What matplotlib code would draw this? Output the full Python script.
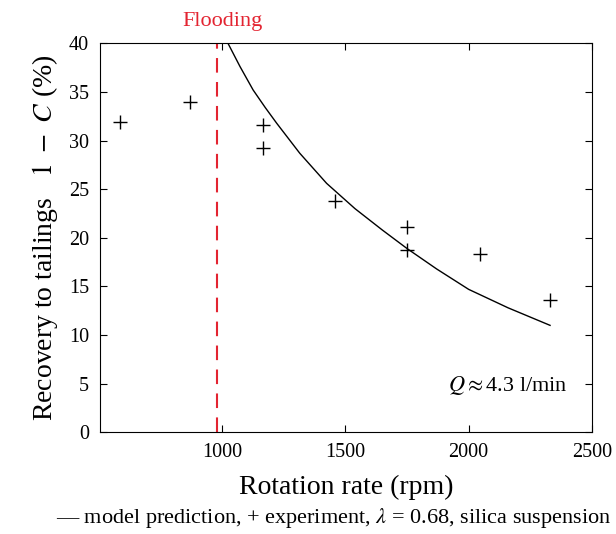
import numpy as np
import matplotlib.pyplot as plt

plt.rcParams['font.family'] = ['Liberation Serif', 'DejaVu Serif']
plt.rcParams['mathtext.fontset'] = 'stix'

# experiment points (rpm, 1 - C %)
exp_rpm = [587, 870, 1166, 1166, 1458, 1750, 1750, 2046, 2330]
exp_rec = [31.9, 34.0, 31.6, 29.2, 23.8, 21.1, 18.7, 18.3, 13.6]

# model prediction curve
model_rpm = [1010, 1024, 1073, 1126, 1175, 1221, 1315, 1424, 1539, 1650, 1750, 1870, 2000, 2160, 2330]
model_rec = [40.7, 40.0, 37.6, 35.2, 33.4, 31.8, 28.7, 25.6, 23.0, 20.8, 18.9, 16.8, 14.7, 12.8, 11.0]

flooding_rpm = 980

fig = plt.figure(figsize=(6.16, 5.34), dpi=100)
ax = fig.add_axes([0.1623, 0.1904, 0.7987, 0.7285])

ax.plot(model_rpm, model_rec, color='black', lw=1.0)
ax.plot(exp_rpm, exp_rec, '+', color='black', ms=10, mew=1.0)
ax.axvline(flooding_rpm, color='#e32431', lw=1.5, dashes=(7, 4.5))

ax.set_xlim(505, 2500)
ax.set_ylim(0, 40)
ax.set_xticks([1000, 1500, 2000, 2500])
ax.set_yticks(np.arange(0, 41, 5))
ax.tick_params(direction='in', top=True, right=True, length=5, labelsize=14.5, pad=8)

ax.set_xlabel('Rotation rate (rpm)', fontsize=20, labelpad=9)
ax.set_ylabel('Recovery to tailings\u2002 $1\\ -\\ C$ (%)', fontsize=20, labelpad=6)

ax.text(1000, 41.3, 'Flooding', color='#e32431', fontsize=16, ha='center', va='bottom')
ax.text(0.95, 0.12, r'$Q\approx$4.3 l/min', transform=ax.transAxes, fontsize=16,
        ha='right', va='center')

fig.text(0.541, 0.03, '— model prediction, + experiment, $\\lambda$ = 0.68, silica suspension',
         fontsize=16, ha='center', va='center')

fig.savefig('out.png', dpi=100)
